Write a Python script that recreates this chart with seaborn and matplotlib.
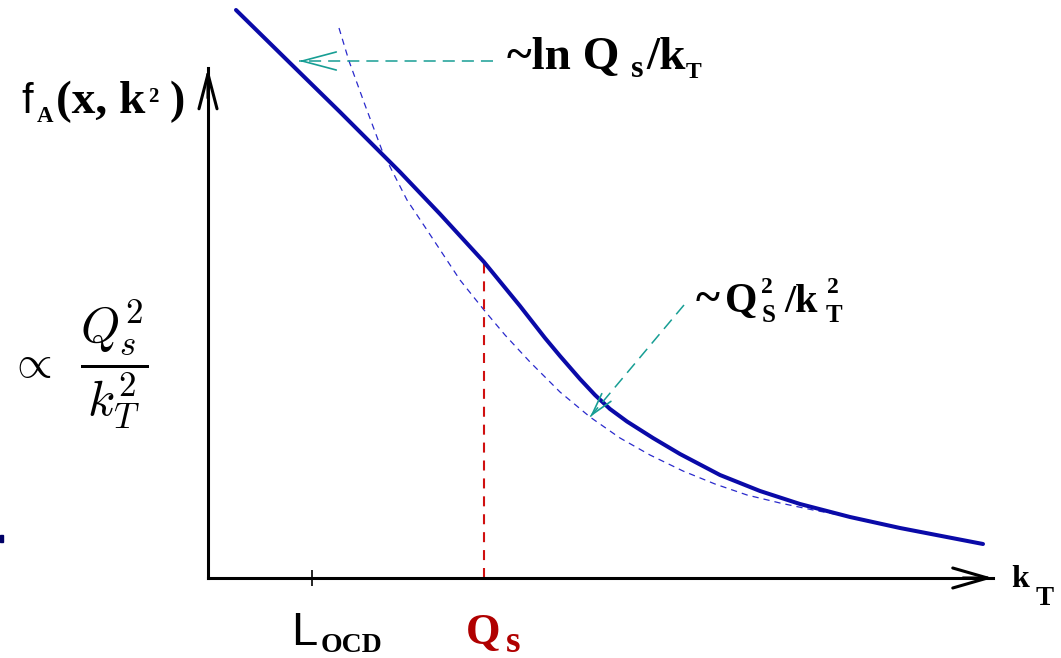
import matplotlib
matplotlib.use("Agg")
import matplotlib.pyplot as plt
from matplotlib.patches import Rectangle
import numpy as np
import seaborn as sns

# sketch values (kT along x, f_A along y, arbitrary units)
main_kt = [0.28, 0.82, 1.32, 1.62, 1.92, 2.32, 2.76, 3.12, 3.37, 3.52, 3.72, 3.87,
           4.02, 4.19, 4.45, 4.72, 5.12, 5.52, 5.92, 6.42, 6.92, 7.75]
main_f = [5.68, 5.15, 4.66, 4.36, 4.06, 3.64, 3.16, 2.72, 2.40, 2.22, 1.99, 1.83,
          1.69, 1.565, 1.40, 1.24, 1.03, 0.87, 0.74, 0.61, 0.50, 0.34]

# asymptotic ~Qs^2/kT^2 guide
asym_kt = [1.31, 1.41, 1.57, 1.75, 1.99, 2.19, 2.52, 2.76, 2.97, 3.22, 3.52, 3.82,
           4.12, 4.42, 4.75, 5.07, 5.39, 5.72, 6.05, 6.37, 6.65]
asym_f = [5.50, 5.17, 4.73, 4.25, 3.78, 3.48, 2.98, 2.68, 2.43, 2.16, 1.86, 1.61,
          1.40, 1.23, 1.07, 0.94, 0.83, 0.75, 0.68, 0.62, 0.57]

qs = 2.76
lqcd = 1.04
x_end = 7.85
y_end = 5.10

# annotation arrows: (tail, tip)
ln_arrow = ((2.85, 5.17), (0.91, 5.17))
pow_arrow = ((4.76, 2.73), (3.82, 1.61))

W, H = 1061, 658
blue = "#0a0aa8"
teal = "#179e94"
red = "#d01010"

sns.set_theme(style="white")
plt.rcParams["font.family"] = ["Liberation Serif", "DejaVu Serif"]
plt.rcParams["text.color"] = "black"

fig = plt.figure(figsize=(W / 100, H / 100), dpi=100)
ax = fig.add_axes([0, 0, 1, 1])
ax.set_xlim(-2.08, 8.53)
ax.set_ylim(-0.80, 5.78)
ax.set_facecolor("white")

# curves
sns.lineplot(x=asym_kt, y=asym_f, sort=False, ax=ax, color="#2a2acc", lw=0.9,
             dashes=False, linestyle=(0, (5, 4)), zorder=2)
sns.lineplot(x=main_kt, y=main_f, sort=False, ax=ax, color=blue, lw=2.9, zorder=3,
             solid_joinstyle="round", solid_capstyle="round")

top = np.interp(qs, main_kt, main_f)
ax.plot([qs, qs], [0, top + 0.04], color=red, lw=1.5, linestyle=(0, (4.8, 3.8)), zorder=2)

# axes with arrows
for side in ["top", "right"]:
    ax.spines[side].set_visible(False)
ax.spines["bottom"].set_position(("data", 0))
ax.spines["left"].set_position(("data", 0))
ax.spines["bottom"].set_bounds(0, x_end)
ax.spines["left"].set_bounds(0, y_end)
for side in ["bottom", "left"]:
    ax.spines[side].set_linewidth(2.2)
    ax.spines[side].set_color("black")
ax.set_xticks([lqcd])
ax.set_yticks([])
ax.tick_params(axis="x", bottom=True, direction="inout", length=12, width=1.2,
               color="black", labelbottom=False)

ax.annotate("", xy=(x_end, 0), xytext=(x_end - 0.3, 0),
            arrowprops=dict(arrowstyle="->,head_length=25,head_width=7.2",
                            mutation_scale=1, lw=2.2, color="black",
                            shrinkA=0, shrinkB=0))
ax.annotate("", xy=(0, y_end), xytext=(0, y_end - 0.3),
            arrowprops=dict(arrowstyle="->,head_length=25,head_width=6.5",
                            mutation_scale=1, lw=2.2, color="black",
                            shrinkA=0, shrinkB=0))

# teal dashed pointers with solid open heads
for (tail, tip), hl, hw in [(ln_arrow, 24.5, 6.5), (pow_arrow, 16, 4.3)]:
    ax.plot([tail[0], tip[0]], [tail[1], tip[1]], color=teal, lw=1.1,
            linestyle=(0, (7.9, 4.6)), zorder=4)
    d = np.array(tail) - np.array(tip)
    d = d / np.hypot(*d)
    ax.annotate("", xy=tip, xytext=(tip[0] + 0.05 * d[0], tip[1] + 0.05 * d[1]),
                arrowprops=dict(arrowstyle=f"->,head_length={hl},head_width={hw}",
                                mutation_scale=1, lw=1.2, color=teal,
                                shrinkA=0, shrinkB=0), zorder=4)


def label(px, py, s, size, color="black", family="Liberation Serif", weight="bold", **kw):
    fig.text(px / W, 1 - py / H, s, fontsize=size, color=color, family=family,
             weight=weight, ha="left", va="baseline", **kw)


# y label f_A(x, k^2)
label(21, 113, "f", 30, family="Liberation Sans", weight="normal")
label(37, 122, "A", 16.5)
label(56, 113, "(x, k", 34)
label(148, 102, "2", 15)
label(170, 113, ")", 33)

# x label kT
label(1011, 587, "k", 23)
label(1036, 605, "T", 19.5)

# ~ln Qs/kT
label(507, 69, "~ln Q", 34)
label(631, 77, "s", 23)
label(646, 69, "/k", 34)
label(686, 78, "T", 17)

# ~Qs^2/kT^2
label(696, 312, "~", 33)
label(725, 312, "Q", 30)
label(761, 293, "2", 17)
label(762, 322, "S", 18)
label(784, 312, "/k", 29)
label(827, 293, "2", 17)
label(826, 322, "T", 18)

# tick labels
label(291, 645, "L", 34, family="Liberation Sans", weight="normal")
label(321, 652, "OCD", 20)
label(466, 644, "Q", 32, color="#b00000")
label(506, 652, "s", 27, color="#b00000")

# proportional marker
fig.text(8 / W, 1 - 366 / H, r"$\propto$", fontsize=33, math_fontfamily="cm",
         color="black", ha="left", va="center")
fig.text(80 / W, 1 - 364 / H, r"$\dfrac{Q_s^2}{k_T^2}$", fontsize=36,
         math_fontfamily="cm", color="black", ha="left", va="center")

fig.patches.append(Rectangle((0, 1 - 542 / H), 3 / W, 7 / H, transform=fig.transFigure,
                             color="#000066"))

fig.savefig("out.png", dpi=100, facecolor="white")
